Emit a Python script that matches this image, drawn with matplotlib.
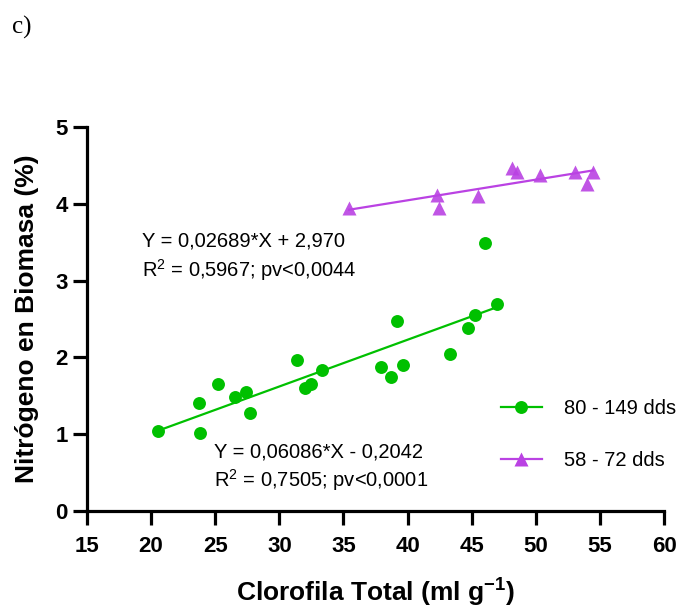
import numpy as np
import matplotlib.pyplot as plt

plt.rcParams['font.family'] = ['Liberation Sans', 'DejaVu Sans']
plt.rcParams['mathtext.default'] = 'regular'

# 80 - 149 dds
x_a = [20.56, 23.8, 23.7, 25.2, 26.57, 27.43, 27.7, 31.4, 32.0, 32.45, 33.3,
       37.93, 38.7, 39.16, 39.67, 43.3, 44.7, 45.24, 46.05, 47.0]
y_a = [1.045, 1.02, 1.41, 1.66, 1.49, 1.55, 1.28, 1.96, 1.60, 1.66, 1.84,
       1.87, 1.75, 2.48, 1.90, 2.04, 2.38, 2.55, 3.49, 2.70]
slope_a, icpt_a = 0.06086, -0.2042

# 58 - 72 dds
x_b = [35.44, 42.27, 42.43, 45.47, 48.17, 48.54, 50.3, 53.04, 53.98, 54.45]
y_b = [3.95, 4.11, 3.94, 4.10, 4.46, 4.41, 4.37, 4.41, 4.26, 4.41]
slope_b, icpt_b = 0.02689, 2.970

green = '#00C000'
purple = '#BA42E3'

fig = plt.figure(figsize=(6.84, 6.08), dpi=100)
ax = fig.add_axes([0.1272, 0.1595, 0.8436, 0.6316])

xa = np.array([min(x_a), max(x_a)])
xb = np.array([min(x_b), max(x_b)])
ax.plot(xa, slope_a*xa + icpt_a, color=green, lw=1.6)
ax.plot(xb, slope_b*xb + icpt_b, color=purple, lw=1.6)
ax.plot(x_a, y_a, 'o', color=green, ms=9.3, mec='none', clip_on=False)
ax.plot(x_b, y_b, '^', color=purple, ms=10, mec='none', alpha=0.9, clip_on=False)

# legend handles
h1, = ax.plot([], [], '-o', color=green, lw=1.6, ms=9.3, mec='none', label='80 - 149 dds')
h2, = ax.plot([], [], '-^', color=purple, lw=1.6, ms=10, mec='none', label='58 - 72 dds')
ax.legend(handles=[h1, h2], loc='upper left', bbox_to_anchor=(0.704, 0.312),
          frameon=False, fontsize=14.5, handlelength=2.0, handletextpad=1.1,
          labelspacing=1.65, borderaxespad=0)

ax.text(19.29, 3.52, 'Y = 0,02689*X + 2,970', fontsize=14.5, va='center')
ax.text(19.29, 3.14, '$R^2$ = 0,5967; pv<0,0044', fontsize=14.5, va='center')
ax.text(24.9, 0.77, 'Y = 0,06086*X - 0,2042', fontsize=14.5, va='center')
ax.text(24.9, 0.40, '$R^2$ = 0,7505; pv<0,0001', fontsize=14.5, va='center')

ax.set_xlim(15, 60)
ax.set_ylim(0, 5)
ax.set_xticks(np.arange(15, 61, 5))
ax.set_yticks(np.arange(0, 6, 1))
for s in ['top', 'right']:
    ax.spines[s].set_visible(False)
for s in ['left', 'bottom']:
    ax.spines[s].set_linewidth(2.3)
ax.tick_params(axis='x', length=10, width=2.3, labelsize=16, pad=8)
ax.tick_params(axis='y', length=10, width=2.3, labelsize=16, pad=4)
for lab in ax.get_xticklabels() + ax.get_yticklabels():
    lab.set_fontweight('bold')
    lab.set_family(['Liberation Sans Narrow', 'Liberation Sans'])

ax.set_xlabel('Clorofila Total (ml g$^{-1}$)', fontsize=19, fontweight='bold', labelpad=14)
ax.set_ylabel('Nitrógeno en Biomasa (%)', fontsize=19, fontweight='bold', labelpad=12)

fig.text(0.018, 0.955, 'c)', fontsize=18, family='Liberation Serif', va='center')

fig.savefig('out.png', dpi=100)
